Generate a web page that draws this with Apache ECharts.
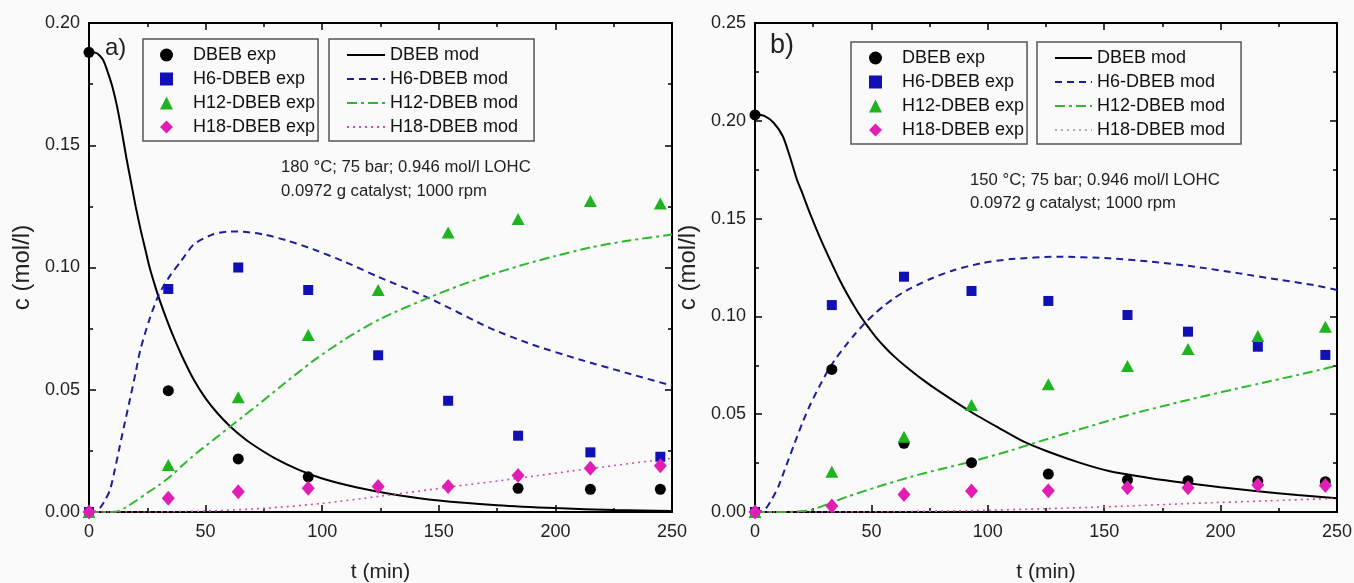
<!DOCTYPE html>
<html>
<head>
<meta charset="utf-8">
<script src="https://cdn.jsdelivr.net/npm/echarts@6/dist/echarts.min.js"></script>
<style>
html,body{margin:0;padding:0;background:#fafafa;}
#chart{width:1354px;height:583px;}
</style>
</head>
<body>
<div id="chart"></div>
<script>
// ---------- Panel a) 180 °C ----------
const tExpA      = [0, 34, 64, 94, 124, 154, 184, 215, 245];
const dbebExpA   = [0.188, 0.0496, 0.0217, 0.0144, null, null, 0.0097, 0.0093, 0.0093];
const h6ExpA     = [0, 0.0912, 0.100, 0.0908, 0.0641, 0.0455, 0.0312, 0.0244, 0.0226];
const h12ExpA    = [0, 0.0192, 0.0469, 0.0724, 0.0908, 0.1143, 0.1198, 0.1272, 0.1262];
const h18ExpA    = [0, 0.0056, 0.0083, 0.0097, 0.0104, 0.0104, 0.0149, 0.0179, 0.0189];

const tDbebModA  = [0, 3, 6, 8, 10, 12, 14, 16, 18, 20, 22, 24, 26, 28, 30, 33, 36, 40, 45, 50, 55, 60, 65, 70, 80, 90, 100, 115, 130, 150, 175, 200, 225, 250];
const dbebModA   = [0.188, 0.1878, 0.185, 0.180, 0.174, 0.166, 0.156, 0.145, 0.135, 0.125, 0.116, 0.108, 0.100, 0.0935, 0.0875, 0.0795, 0.0722, 0.0635, 0.0540, 0.0465, 0.0405, 0.0355, 0.0313, 0.0277, 0.0218, 0.0172, 0.0137, 0.0100, 0.0073, 0.0047, 0.0028, 0.0016, 0.0008, 0.0004];
const tH6ModA    = [0, 3, 5, 7, 9, 11, 13, 15, 17.5, 20, 22, 26, 30, 35, 39, 45, 53, 60, 66, 75, 85, 96, 110, 124, 146, 172, 190, 210, 230, 250];
const h6ModA     = [0, 0.0003, 0.002, 0.005, 0.009, 0.017, 0.026, 0.035, 0.0458, 0.057, 0.0663, 0.079, 0.089, 0.097, 0.102, 0.1095, 0.1135, 0.1147, 0.1146, 0.1135, 0.111, 0.1075, 0.1022, 0.0962, 0.0874, 0.0752, 0.0685, 0.0625, 0.057, 0.0517];
const tH12ModA   = [0, 10, 13, 16, 20, 25, 30, 35, 40, 46, 54, 62, 72, 82, 96, 110, 125, 146, 160, 172, 185, 200, 215, 230, 250];
const h12ModA    = [0, 0, 0.0005, 0.002, 0.0045, 0.0078, 0.011, 0.0146, 0.019, 0.024, 0.030, 0.036, 0.0435, 0.0512, 0.0617, 0.0708, 0.0790, 0.0878, 0.0930, 0.0970, 0.1008, 0.1047, 0.1082, 0.1108, 0.1135];
const tH18ModA   = [0, 25, 50, 75, 100, 125, 153, 184, 215, 250];
const h18ModA    = [0, 0, 0.0004, 0.0015, 0.0035, 0.0065, 0.0100, 0.0138, 0.0178, 0.022];

// ---------- Panel b) 150 °C ----------
const tExpB      = [0, 33, 64, 93, 126, 160, 186, 216, 245];
const dbebExpB   = [0.203, 0.0729, 0.0351, 0.0252, 0.0194, 0.0164, 0.0160, 0.0158, 0.0155];
const h6ExpB     = [0, 0.1058, 0.1203, 0.1130, 0.1079, 0.1007, 0.0922, 0.0845, 0.0803];
const h12ExpB    = [0, 0.0206, 0.0385, 0.0547, 0.0653, 0.0746, 0.0833, 0.0900, 0.0947];
const h18ExpB    = [0, 0.0031, 0.0090, 0.0107, 0.0109, 0.0124, 0.0124, 0.0138, 0.0135];

const tDbebModB  = [0, 4, 8, 12, 15, 18, 20, 24, 28, 32, 36, 40, 44, 48, 52, 56, 60, 64, 72, 80, 93, 105, 115, 126, 140, 152, 170, 186, 200, 216, 233, 250];
const dbebModB   = [0.2035, 0.2025, 0.199, 0.192, 0.1816, 0.170, 0.164, 0.1515, 0.140, 0.1295, 0.1195, 0.1105, 0.1025, 0.0955, 0.0893, 0.0840, 0.0793, 0.0752, 0.0677, 0.0610, 0.0510, 0.0428, 0.0362, 0.0308, 0.0250, 0.0210, 0.0173, 0.0147, 0.0127, 0.0106, 0.0087, 0.0070];
const tH6ModB    = [0, 4, 7, 10, 13.5, 17, 20.5, 24, 28, 31.5, 35, 39, 43, 47, 51.5, 56, 60, 65, 75, 85, 97, 110, 130, 152, 170, 189, 208, 226, 240, 250];
const h6ModB     = [0, 0.001, 0.006, 0.0129, 0.024, 0.0351, 0.046, 0.0556, 0.065, 0.0726, 0.079, 0.0852, 0.091, 0.0963, 0.1015, 0.1060, 0.1095, 0.1132, 0.119, 0.1235, 0.1271, 0.1293, 0.1305, 0.1297, 0.128, 0.1254, 0.122, 0.1186, 0.116, 0.1135];
const tH12ModB   = [0, 12, 18, 24, 34, 40, 53, 67, 80, 93, 110, 126, 143, 160, 186, 216, 233, 250];
const h12ModB    = [0, 0, 0.0003, 0.001, 0.0053, 0.008, 0.013, 0.018, 0.022, 0.0258, 0.0315, 0.0375, 0.0435, 0.0495, 0.0573, 0.0655, 0.070, 0.0748];
const tH18ModB   = [0, 50, 93, 125, 152, 188, 220, 250];
const h18ModB    = [0, 0.0001, 0.0007, 0.0017, 0.0027, 0.0044, 0.0057, 0.0070];

const expNames = ['DBEB exp', 'H6-DBEB exp', 'H12-DBEB exp', 'H18-DBEB exp'];
const modNames = ['DBEB mod', 'H6-DBEB mod', 'H12-DBEB mod', 'H18-DBEB mod'];
const panelLabels = ['a)', 'b)'];
const conditionsA = '180 °C; 75 bar; 0.946 mol/l LOHC\n0.0972 g catalyst; 1000 rpm';
const conditionsB = '150 °C; 75 bar; 0.946 mol/l LOHC\n0.0972 g catalyst; 1000 rpm';

const FONT = '"Liberation Sans", Arial, sans-serif';

function zip(t, v) {
  const out = [];
  for (let i = 0; i < t.length; i++) if (v[i] !== null) out.push([t[i], v[i]]);
  return out;
}

const C_BLACK = '#000000', C_BLUE = '#1010b4', C_GREEN = '#1fb41f', C_PINK = '#e01eb4';
const L_BLUE = '#1e1e96', L_GREEN = '#2eb82e', L_PINK = '#cc4cb0';

function expSeries(idx, names, data) {
  const sty = [
    {symbol: 'circle', symbolSize: 11, color: C_BLACK},
    {symbol: 'rect', symbolSize: 10, color: C_BLUE},
    {symbol: 'triangle', symbolSize: [13, 12], color: C_GREEN},
    {symbol: 'diamond', symbolSize: [13, 15], color: C_PINK}
  ];
  return data.map((d, i) => ({
    type: 'scatter', name: names[i], xAxisIndex: idx * 2, yAxisIndex: idx * 2,
    data: d, symbol: sty[i].symbol, symbolSize: sty[i].symbolSize,
    itemStyle: {color: sty[i].color, opacity: 1}, z: 5, silent: true
  }));
}
function modSeries(idx, names, data) {
  const sty = [
    {color: C_BLACK, type: 'solid', width: 2},
    {color: L_BLUE, type: [7, 5], width: 2},
    {color: L_GREEN, type: [10, 4, 3, 4], width: 2},
    {color: L_PINK, type: [2, 4], width: 1.6}
  ];
  return data.map((d, i) => ({
    type: 'line', name: names[i], xAxisIndex: idx * 2, yAxisIndex: idx * 2,
    data: d, symbol: 'none', smooth: 0.25, showSymbol: false,
    lineStyle: {color: sty[i].color, type: sty[i].type, width: sty[i].width, opacity: 1},
    itemStyle: {color: sty[i].color}, z: 3, silent: true
  }));
}

const grids = [
  {left: 89, top: 23, width: 583, height: 489, outerBoundsMode: 'none', containLabel: false},
  {left: 755, top: 23, width: 582, height: 489, outerBoundsMode: 'none', containLabel: false}
];

function xAxes(gi) {
  const base = {
    type: 'value', gridIndex: gi, min: 0, max: 250, interval: 50,
    axisLine: {show: true, onZero: false, lineStyle: {color: '#000', width: 2}},
    axisTick: {show: true, inside: true, length: 7, lineStyle: {color: '#000', width: 1.5}},
    minorTick: {show: true, splitNumber: 2, length: 4, lineStyle: {color: '#000', width: 1.5}},
    splitLine: {show: false}
  };
  return [
    Object.assign({}, base, {
      position: 'bottom',
      axisLabel: {show: true, margin: 11, fontFamily: FONT, fontSize: 18, color: '#222'},
      name: 't (min)', nameLocation: 'middle', nameGap: 50,
      nameTextStyle: {fontFamily: FONT, fontSize: 21, color: '#222'}
    }),
    Object.assign({}, base, {position: 'top', axisLabel: {show: false}})
  ];
}
function yAxes(gi, max) {
  const base = {
    type: 'value', gridIndex: gi, min: 0, max: max, interval: 0.05,
    axisLine: {show: true, onZero: false, lineStyle: {color: '#000', width: 2}},
    axisTick: {show: true, inside: true, length: 7, lineStyle: {color: '#000', width: 1.5}},
    minorTick: {show: true, splitNumber: 2, length: 4, lineStyle: {color: '#000', width: 1.5}},
    splitLine: {show: false}
  };
  return [
    Object.assign({}, base, {
      position: 'left',
      axisLabel: {show: true, margin: 9, fontFamily: FONT, fontSize: 18, color: '#222',
        formatter: v => v.toFixed(2)},
      name: 'c (mol/l)', nameLocation: 'middle', nameGap: 55,
      nameTextStyle: {fontFamily: FONT, fontSize: 24, color: '#222'}
    }),
    Object.assign({}, base, {position: 'right', axisLabel: {show: false}})
  ];
}

function expLegend(left, top, padLeft) {
  return {
    left: left, top: top, orient: 'vertical',
    padding: [6, 3, 4, padLeft], itemWidth: 13, itemHeight: 13, itemGap: 4,
    borderColor: '#555', borderWidth: 1.5, backgroundColor: 'rgba(0,0,0,0)',
    selectedMode: false,
    formatter: n => '   ' + n,
    textStyle: {fontFamily: FONT, fontSize: 18, lineHeight: 20, color: '#111'},
    data: expNames
  };
}
function modLegend(left, top, itemWidth, lastColor) {
  return {
    left: left, top: top, orient: 'vertical',
    padding: [6, 16, 4, 17], itemWidth: itemWidth, itemHeight: 13, itemGap: 4,
    borderColor: '#555', borderWidth: 1.5, backgroundColor: 'rgba(0,0,0,0)',
    selectedMode: false,
    textStyle: {fontFamily: FONT, fontSize: 18, lineHeight: 20, color: '#111'},
    data: modNames.map((n, i) => {
      const item = {name: n, itemStyle: {color: 'rgba(0,0,0,0)', borderColor: 'rgba(0,0,0,0)', borderWidth: 0}};
      if (i === 3 && lastColor) item.lineStyle = {color: lastColor};
      return item;
    })
  };
}

const option = {
  backgroundColor: '#fafafa',
  animation: false,
  grid: grids,
  xAxis: [...xAxes(0), ...xAxes(1)],
  yAxis: [...yAxes(0, 0.20), ...yAxes(1, 0.25)],
  legend: [
    expLegend(143, 39, 17),
    modLegend(329, 39, 38, null),
    expLegend(851, 42, 18),
    modLegend(1037, 42, 37, '#b8a8b4')
  ],
  series: [
    ...modSeries(0, modNames, [zip(tDbebModA, dbebModA), zip(tH6ModA, h6ModA), zip(tH12ModA, h12ModA), zip(tH18ModA, h18ModA)]),
    ...expSeries(0, expNames, [zip(tExpA, dbebExpA), zip(tExpA, h6ExpA), zip(tExpA, h12ExpA), zip(tExpA, h18ExpA)]),
    ...modSeries(1, modNames, [zip(tDbebModB, dbebModB), zip(tH6ModB, h6ModB), zip(tH12ModB, h12ModB), zip(tH18ModB, h18ModB)]),
    ...expSeries(1, expNames, [zip(tExpB, dbebExpB), zip(tExpB, h6ExpB), zip(tExpB, h12ExpB), zip(tExpB, h18ExpB)])
  ],
  graphic: [
    {type: 'text', left: 105, top: 36, style: {text: panelLabels[0], font: '24px ' + FONT, fill: '#222'}},
    {type: 'text', left: 770, top: 32, style: {text: panelLabels[1], font: '27px ' + FONT, fill: '#222'}},
    {type: 'text', left: 281, top: 155, style: {text: conditionsA, font: '16.7px ' + FONT, lineHeight: 24, fill: '#222'}},
    {type: 'text', left: 970, top: 169, style: {text: conditionsB, font: '16.7px ' + FONT, lineHeight: 23, fill: '#222'}}
  ]
};

const chart = echarts.init(document.getElementById('chart'), null, {renderer: 'canvas'});
chart.setOption(option);
</script>
</body>
</html>
